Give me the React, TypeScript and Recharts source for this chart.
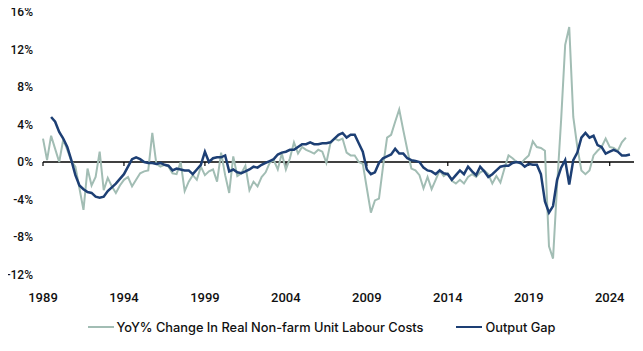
import { LineChart, Line, XAxis, YAxis, ReferenceLine } from 'recharts';

// quarterly data starting 1989 Q1
const startYear = 1989;

const labourCosts = [
  2.5, 0.2, 2.8, 1.4, 0.0, 2.4, 1.3, 0.1, -0.5, -2.8,
  -5.1, -0.7, -2.5, -1.6, 1.1, -3.0, -1.7, -2.6, -3.3, -2.5,
  -1.9, -1.6, -2.6, -1.9, -1.2, -1.0, -0.9, 3.1, -0.2, -0.5,
  -0.3, -0.5, -1.2, -1.3, 0.0, -3.1, -2.1, -1.4, -1.9, -0.5,
  -1.4, -1.0, -0.8, -2.1, 1.0, -1.4, -3.3, 0.6, -1.5, -1.2,
  -0.4, -3.0, -2.1, -2.6, -1.6, -1.1, -0.1, 0.2, -0.8, 0.9,
  -0.8, 0.4, 2.1, 0.9, 1.6, 1.3, 1.1, 0.9, 1.3, 1.1,
  -0.1, 2.0, 2.5, 2.3, 2.5, 1.0, 0.7, 0.7, 0.0, -0.2,
  -2.8, -5.4, -4.1, -3.9, -0.5, 2.6, 2.9, 4.3, 5.6, 3.4,
  1.3, -0.7, -0.9, -1.4, -2.8, -1.6, -2.9, -1.9, -0.9, -1.5,
  -1.2, -2.0, -2.3, -1.9, -2.3, -1.6, -1.3, -1.6, -1.1, -0.9,
  -1.3, -2.3, -1.5, -2.2, -0.7, 0.7, 0.4, 0.0, -0.2, 0.3,
  0.7, 2.2, 1.6, 1.5, 1.2, -9.0, -10.3, -2.5, 4.5, 12.5,
  14.4, 4.8, 1.6, -0.9, -1.3, -0.9, 0.7, 1.2, 1.6, 2.5,
  1.6, 1.5, 1.2, 2.1, 2.6,
];

const outputGap = [
  null, null, 4.8, 4.3, 3.2, 2.5, 1.6, 0.2, -1.4, -2.5,
  -2.9, -3.2, -3.3, -3.7, -3.8, -3.7, -3.1, -2.7, -2.3, -1.8,
  -1.3, -0.5, 0.3, 0.5, 0.3, 0.0, -0.1, -0.1, -0.2, -0.1,
  -0.3, -0.4, -0.9, -0.7, -0.8, -0.9, -0.9, -1.3, -0.8, -0.3,
  1.1, 0.0, 0.4, 0.5, 0.5, 0.7, -1.0, -0.8, -1.1, -1.2,
  -1.0, -0.8, -0.5, -0.6, -0.3, -0.1, 0.1, 0.3, 0.8, 1.0,
  1.1, 1.3, 1.3, 1.6, 1.9, 1.9, 2.1, 1.9, 1.9, 2.0,
  2.0, 2.1, 2.5, 2.9, 3.1, 2.6, 2.9, 2.9, 2.0, 1.1,
  -0.8, -1.3, -1.1, -0.1, 0.4, 0.6, 0.8, 1.4, 0.9, 0.9,
  0.4, 0.2, 0.1, 0.0, -0.6, -0.9, -1.0, -1.3, -0.9, -1.2,
  -1.3, -1.9, -1.4, -0.9, -1.3, -0.5, -1.0, -1.4, -0.5, -1.0,
  -1.6, -1.3, -0.9, -0.5, -0.4, -0.4, -0.1, 0.0, -0.1, -0.5,
  -0.2, -0.3, -0.3, -1.3, -4.2, -5.4, -4.7, -1.9, -0.6, 0.2,
  -2.4, 0.2, 1.0, 2.6, 3.1, 2.6, 2.8, 1.8, 1.6, 0.9,
  1.1, 1.3, 1.1, 0.7, 0.7, 0.8,
];

const yearTicks = [1989, 1994, 1999, 2004, 2009, 2014, 2019, 2024];
const yTicks = [-12, -8, -4, 0, 4, 8, 12, 16];

const GREEN = '#a2bdb4';
const BLUE = '#1d3f74';

const data = outputGap.map((gap, i) => ({
  q: i,
  costs: i < labourCosts.length ? labourCosts[i] : null,
  gap,
}));

const tickQ = yearTicks.map((y) => (y - startYear) * 4);

function LegendItem({ color, width, label }: { color: string; width: number; label: string }) {
  return (
    <span style={{ display: 'inline-flex', alignItems: 'center' }}>
      <span style={{ display: 'inline-block', width: 26, height: width, background: color, marginRight: 3 }} />
      <span>{label}</span>
    </span>
  );
}

export default function App() {
  const tickStyle = { fill: '#111', fontSize: 13, fontFamily: 'Roboto, sans-serif', fontWeight: 500 };
  return (
    <div style={{ width: 643, margin: '-8px 0 0 -8px' }}>
      <LineChart width={643} height={310} data={data} margin={{ top: 12, right: 9, bottom: 0, left: 0 }}>
        <XAxis
          dataKey="q"
          type="number"
          domain={[0, 146]}
          ticks={tickQ}
          tickFormatter={(q: number) => String(startYear + q / 4)}
          axisLine={false}
          tickLine={false}
          tickSize={0}
          tickMargin={18}
          height={35.5}
          tick={tickStyle}
        />
        <YAxis
          domain={[-12, 16]}
          ticks={yTicks}
          tickFormatter={(v: number) => `${v}%`}
          axisLine={false}
          tickLine={false}
          tickSize={0}
          tickMargin={10}
          width={43}
          tick={{ ...tickStyle, fontSize: 12 }}
        />
        <ReferenceLine y={0} stroke="#000" strokeWidth={1.3} />
        {tickQ.map((q) => (
          <ReferenceLine
            key={q}
            segment={[{ x: q, y: 0 }, { x: q, y: -0.43 }]}
            stroke="#000"
            strokeWidth={1.2}
          />
        ))}
        <Line
          type="linear"
          dataKey="costs"
          stroke={GREEN}
          strokeWidth={2}
          dot={false}
          isAnimationActive={false}
        />
        <Line
          type="linear"
          dataKey="gap"
          stroke={BLUE}
          strokeWidth={2.5}
          dot={false}
          isAnimationActive={false}
        />
      </LineChart>
      <div
        style={{
          display: 'flex',
          justifyContent: 'center',
          gap: 33,
          marginTop: 7,
          height: 20,
          fontFamily: 'Inter, sans-serif',
          fontSize: 12.8,
          fontWeight: 500,
          color: '#111',
        }}
      >
        <LegendItem color={GREEN} width={2} label="YoY% Change In Real Non-farm Unit Labour Costs" />
        <LegendItem color={BLUE} width={2.5} label="Output Gap" />
      </div>
    </div>
  );
}
